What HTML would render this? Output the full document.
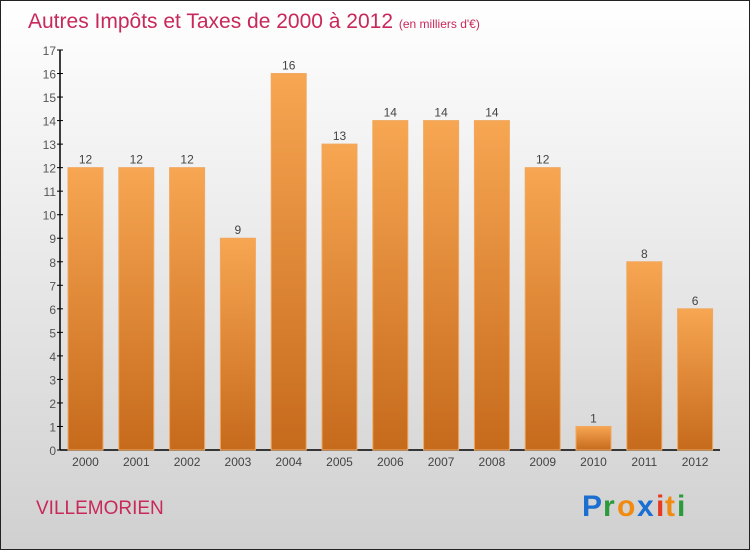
<!DOCTYPE html>
<html><head><meta charset="utf-8"><style>
body{margin:0;width:750px;height:550px;overflow:hidden}
svg{display:block}
text{font-family:"Liberation Sans",sans-serif}
</style></head><body>
<svg width="750" height="550">
<defs>
<linearGradient id="bg" x1="0" y1="0" x2="0" y2="1"><stop offset="0" stop-color="#ffffff"/><stop offset="1" stop-color="#d0d0d0"/></linearGradient>
<linearGradient id="bar" x1="0" y1="0" x2="0" y2="1"><stop offset="0" stop-color="#f7a652"/><stop offset="1" stop-color="#c66a1c"/></linearGradient>
</defs>
<rect x="0.5" y="0.5" width="749" height="549" fill="url(#bg)" stroke="#222"/>
<text x="28" y="28" font-size="21" fill="#c8285a">Autres Impôts et Taxes de 2000 à 2012 <tspan font-size="12">(en milliers d'€)</tspan></text>
<g id="axes"></g>
<g id="bars"></g>
<text x="36" y="514" font-size="19" fill="#c8285a">VILLEMORIEN</text>
<g font-size="30" font-weight="bold">
<text x="582" y="516" fill="#1a6fd0">P</text><text x="603" y="516" fill="#2a9a3a">r</text><text x="617" y="516" fill="#f08a10">o</text><text x="637" y="516" fill="#1a6fd0">x</text><text x="656" y="516" fill="#e83a20">i</text><text x="665" y="516" fill="#f08a10">t</text><text x="677" y="516" fill="#2a9a3a">i</text>
</g>
</svg>
<script>
const categories=["2000","2001","2002","2003","2004","2005","2006","2007","2008","2009","2010","2011","2012"];
const values=[12,12,12,9,16,13,14,14,14,12,1,8,6];
const yTicks=[0,1,2,3,4,5,6,7,8,9,10,11,12,13,14,15,16,17];
const NS="http://www.w3.org/2000/svg";
const y0=450,yTop=50,yMax=17;
function yScale(v){return y0-(v/yMax)*(y0-yTop);}
function xScale(i){return 85.5+i*50.8;}
function mk(tag,attrs,parent){const e=document.createElementNS(NS,tag);for(const k in attrs)e.setAttribute(k,attrs[k]);parent.appendChild(e);return e;}
const axes=document.getElementById('axes'),bars=document.getElementById('bars');
let a=mk('line',{x1:60,y1:50,x2:60,y2:450,stroke:'#000','stroke-width':1.5},axes);


a=mk('line',{x1:60,y1:450,x2:720,y2:450,stroke:'#000','stroke-width':1.5},axes);


yTicks.forEach(v=>{const y=yScale(v);
 mk('line',{x1:57,y1:y,x2:63,y2:y,stroke:'#000'},axes);
 const t=mk('text',{x:56,y:y+5,'font-size':12,'text-anchor':'end',fill:'#555'},axes);t.textContent=v;
 
 
});
categories.forEach((c,i)=>{const x=xScale(i),v=values[i],y=yScale(v);
 const r=mk('rect',{x:x-17.5,y:y,width:35,height:y0-y,fill:'url(#bar)',stroke:'#f0a860','stroke-width':1},bars);
 
 
 const l=mk('text',{x:x,y:y-4,'font-size':12,'text-anchor':'middle',fill:'#444'},bars);l.textContent=v;
 
 
 const t=mk('text',{x:x,y:466,'font-size':12,'text-anchor':'middle',fill:'#444'},axes);t.textContent=c;
 
 
});
</script>
</body></html>
